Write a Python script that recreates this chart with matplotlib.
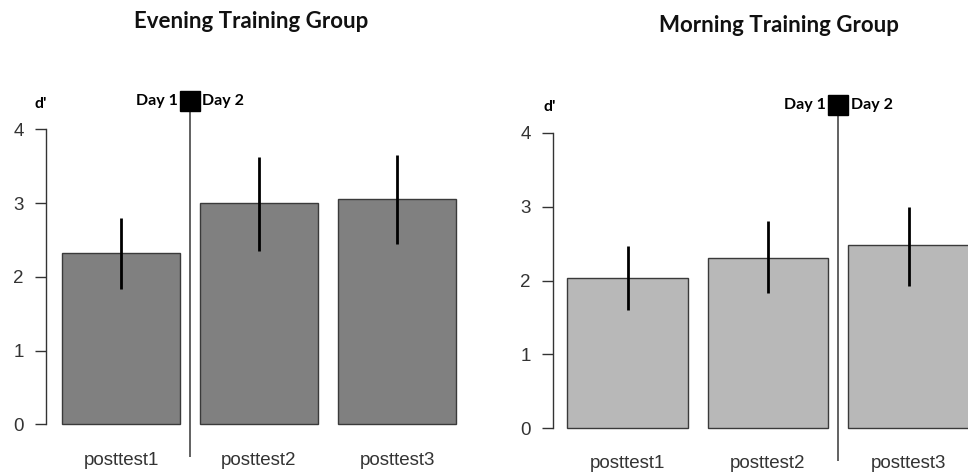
import matplotlib
matplotlib.use("Agg")
import matplotlib.pyplot as plt

# ---- data ----
categories = ["posttest1", "posttest2", "posttest3"]
evening_means = [2.32, 3.00, 3.05]
evening_upper = [2.80, 3.62, 3.65]
evening_lower = [1.83, 2.35, 2.45]
morning_means = [2.03, 2.30, 2.48]
morning_upper = [2.47, 2.80, 3.00]
morning_lower = [1.60, 1.83, 1.93]
yticks = [0, 1, 2, 3, 4]
titles = ["Evening Training Group", "Morning Training Group"]
day_split = [0.5, 1.5]   # divider position between categories

W, H = 968, 472
fig = plt.figure(figsize=(W / 100, H / 100), dpi=100)
fig.patch.set_facecolor("white")


def make_axes(px0, px_per, py0, py_per, left_px, right_px, ylo, yhi):
    # px = px0 + px_per*x ; py = py0 - py_per*y  (py from top)
    xlo = (left_px - px0) / px_per
    xhi = (right_px - px0) / px_per
    top_px = py0 - py_per * yhi
    bot_px = py0 - py_per * ylo
    ax = fig.add_axes([left_px / W, 1 - bot_px / H,
                       (right_px - left_px) / W, (bot_px - top_px) / H])
    ax.set_xlim(xlo, xhi)
    ax.set_ylim(ylo, yhi)
    return ax


def draw_panel(ax, means, lo, hi, color, split, dx_label):
    x = list(range(len(categories)))
    ax.bar(x, means, width=0.855, color=color, edgecolor="#3a3a3a",
           linewidth=1.0, zorder=2)
    ax.vlines(x, lo, hi, color="black", linewidth=2.0, zorder=3)
    for s in ["top", "right", "bottom"]:
        ax.spines[s].set_visible(False)
    ax.spines["left"].set_bounds(0, 4)
    ax.spines["left"].set_color("#333333")
    ax.spines["left"].set_linewidth(1.0)
    ax.set_yticks(yticks)
    ax.set_yticklabels([str(t) for t in yticks], fontsize=13.5,
                       family="Liberation Sans", color="#333333")
    ax.tick_params(axis="y", length=8, width=1.0, color="#333333", pad=8)
    ax.set_xticks(x)
    ax.set_xticklabels(categories, fontsize=13.5, family="Liberation Sans",
                       color="#333333")
    ax.tick_params(axis="x", length=0, pad=3)
    # divider
    ax.vlines([split], -0.44, 4.25, color="#555555", linewidth=1.3,
              clip_on=False, zorder=4)
    ax.plot([split], [4.38], marker="s", markersize=15, color="black",
            clip_on=False, zorder=5)
    ax.annotate("Day 1", (split, 4.38), xytext=(-9, 0),
                textcoords="offset points", ha="right", va="center",
                fontsize=11.5, fontweight="bold", family="Lato",
                annotation_clip=False)
    ax.annotate("Day 2", (split, 4.38), xytext=(9, 0),
                textcoords="offset points", ha="left", va="center",
                fontsize=11.5, fontweight="bold", family="Lato",
                annotation_clip=False)
    ax.annotate("d'", (ax.get_xlim()[0], 4.38), xytext=(dx_label, -2),
                textcoords="offset points", ha="center", va="center",
                fontsize=11.5, fontweight="bold", family="Lato",
                annotation_clip=False)


axL = make_axes(121, 138, 424.3, 73.75, 46, 472, -0.321, 4.6)
draw_panel(axL, evening_means, evening_lower, evening_upper, "#808080",
           day_split[0], -4)

axR = make_axes(627.5, 140.5, 428.3, 73.9, 553, 968, -0.307, 4.6)
draw_panel(axR, morning_means, morning_lower, morning_upper, "#b8b8b8",
           day_split[1], -2)

fig.text(251 / W, 1 - 22 / H, titles[0], ha="center", va="center",
         fontsize=16, fontweight="bold", family="Lato", color="#111111")
fig.text(779 / W, 1 - 26 / H, titles[1], ha="center", va="center",
         fontsize=16, fontweight="bold", family="Lato", color="#111111")

fig.savefig("out.png", dpi=100, facecolor="white")
